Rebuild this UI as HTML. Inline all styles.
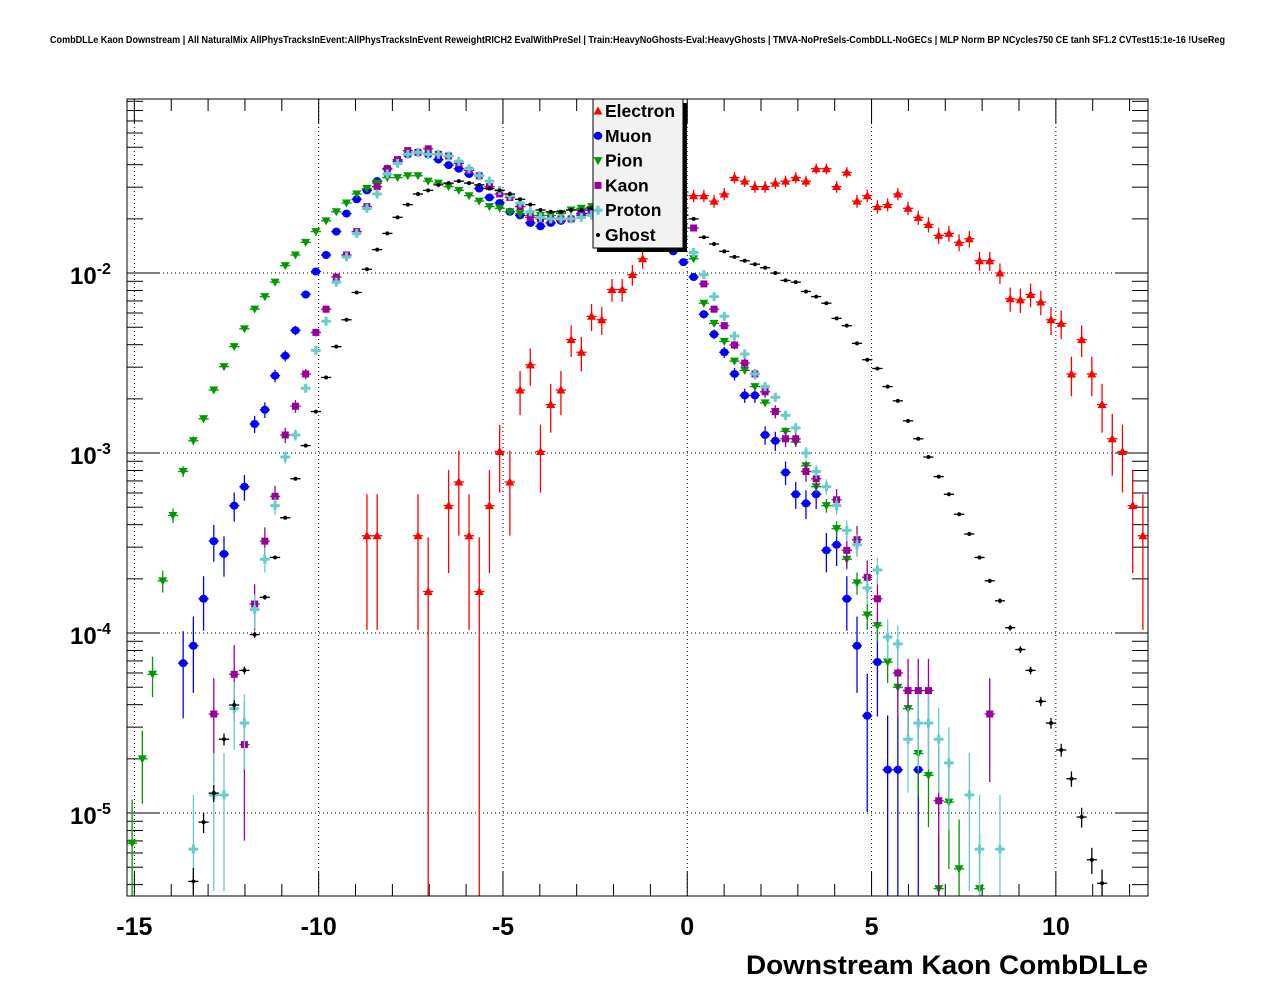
<!DOCTYPE html>
<html><head><meta charset="utf-8"><style>
html,body{margin:0;padding:0;background:#fff;}
svg{display:block;font-family:"Liberation Sans",Arial,sans-serif;}
</style></head><body>
<svg id="chart" width="1276" height="996" viewBox="0 0 1276 996" xmlns="http://www.w3.org/2000/svg">
<rect x="0" y="0" width="1276" height="996" fill="#fff"/>
<text x="50" y="43" font-size="10" font-weight="bold" textLength="1175" lengthAdjust="spacingAndGlyphs">CombDLLe Kaon Downstream | All NaturalMix AllPhysTracksInEvent:AllPhysTracksInEvent ReweightRICH2 EvalWithPreSel | Train:HeavyNoGhosts-Eval:HeavyGhosts | TMVA-NoPreSels-CombDLL-NoGECs | MLP Norm BP NCycles750 CE tanh SF1.2 CVTest15:1e-16 !UseReg</text>
<g id="grid"></g>
<g id="axes"></g>
<g id="data"></g>
<rect x="127" y="99" width="1021" height="797" fill="none" stroke="#000" stroke-width="1"/>
<text x="746" y="974" font-size="27" font-weight="bold" textLength="402" lengthAdjust="spacingAndGlyphs">Downstream Kaon CombDLLe</text>
<g id="legend"></g>
</svg>
<script>
const xMin = -15.2, xMax = 12.5, nBins = 100;
const yMinLog = -5.461, yMaxLog = -1.033;
const seriesNames = ["Electron","Muon","Pion","Kaon","Proton","Ghost"];
const _ = null;
const electron = [_,_,_,_,_,_,_,_,_,_,_,_,_,_,_,_,_,_,_,_,_,_,_,3.47e-4,3.47e-4,_,_,_,3.47e-4,1.7e-4,_,5.1e-4,6.9e-4,3.47e-4,1.7e-4,5.1e-4,1.02e-3,6.9e-4,2.24e-3,3.09e-3,1.02e-3,1.86e-3,2.24e-3,4.27e-3,3.63e-3,5.75e-3,5.5e-3,8.1e-3,8.1e-3,9.8e-3,1.2e-2,1.51e-2,1.9e-2,2.4e-2,2.82e-2,2.69e-2,2.69e-2,2.51e-2,2.75e-2,3.39e-2,3.24e-2,3.02e-2,3.02e-2,3.16e-2,3.24e-2,3.39e-2,3.24e-2,3.8e-2,3.8e-2,3.02e-2,3.63e-2,2.51e-2,2.69e-2,2.34e-2,2.4e-2,2.75e-2,2.29e-2,2.04e-2,1.86e-2,1.62e-2,1.66e-2,1.48e-2,1.55e-2,1.17e-2,1.17e-2,1.0e-2,7.2e-3,7.1e-3,7.6e-3,6.9e-3,5.5e-3,5.25e-3,2.75e-3,4.27e-3,2.75e-3,1.86e-3,1.2e-3,1.02e-3,5.1e-4,3.47e-4];
const muon = [_,_,_,_,_,6.8e-5,8.5e-5,1.55e-4,3.24e-4,2.75e-4,5.1e-4,6.5e-4,1.45e-3,1.74e-3,2.69e-3,3.47e-3,4.8e-3,7.6e-3,1.02e-2,1.26e-2,1.7e-2,2.14e-2,2.57e-2,2.88e-2,3.24e-2,3.8e-2,4.17e-2,4.57e-2,4.68e-2,4.57e-2,4.27e-2,3.98e-2,3.8e-2,3.55e-2,2.95e-2,2.63e-2,2.45e-2,2.19e-2,2.09e-2,1.9e-2,1.82e-2,1.9e-2,1.95e-2,2.0e-2,2.14e-2,2.24e-2,2.3e-2,2.3e-2,2.25e-2,2.15e-2,2.0e-2,1.8e-2,1.55e-2,1.32e-2,1.15e-2,9.5e-3,5.9e-3,4.57e-3,3.63e-3,2.75e-3,2.09e-3,2.09e-3,1.26e-3,1.17e-3,7.8e-4,5.9e-4,5.25e-4,5.9e-4,2.88e-4,3.09e-4,1.55e-4,8.5e-5,3.47e-5,6.9e-5,1.74e-5,1.74e-5,_,1.74e-5,_,_,_,_,_,_,_,_,_,_,_,_,_,_,_,_,_,_,_,_,_,_];
const pion = [6.8e-6,2.0e-5,5.9e-5,1.95e-4,4.5e-4,7.9e-4,1.17e-3,1.55e-3,2.24e-3,3.02e-3,3.9e-3,4.9e-3,6.3e-3,7.4e-3,8.9e-3,1.1e-2,1.26e-2,1.48e-2,1.7e-2,1.95e-2,2.19e-2,2.45e-2,2.75e-2,2.95e-2,3.16e-2,3.39e-2,3.39e-2,3.47e-2,3.47e-2,3.24e-2,3.16e-2,3.02e-2,2.88e-2,2.69e-2,2.51e-2,2.34e-2,2.29e-2,2.19e-2,2.14e-2,2.09e-2,2.09e-2,2.09e-2,2.14e-2,2.24e-2,2.29e-2,2.34e-2,2.3e-2,2.3e-2,2.25e-2,2.2e-2,2.1e-2,2.0e-2,1.9e-2,1.8e-2,1.78e-2,1.2e-2,6.8e-3,5.25e-3,4.17e-3,3.24e-3,2.88e-3,2.34e-3,1.9e-3,1.7e-3,1.32e-3,1.15e-3,8.5e-4,6.5e-4,5.1e-4,3.8e-4,2.57e-4,1.9e-4,1.26e-4,1.1e-4,6.9e-5,5.0e-5,3.8e-5,2.14e-5,1.62e-5,3.8e-6,1.15e-5,4.9e-6,_,3.8e-6,_,_,_,_,_,_,_,_,_,_,_,_,_,_,_,_];
const kaon = [_,_,_,_,_,_,_,_,3.55e-5,_,5.9e-5,2.4e-5,1.45e-4,3.24e-4,5.75e-4,1.26e-3,1.82e-3,2.75e-3,4.68e-3,6.3e-3,9.5e-3,1.26e-2,1.7e-2,2.34e-2,3.02e-2,3.8e-2,4.27e-2,4.79e-2,4.68e-2,4.9e-2,4.57e-2,4.47e-2,4.07e-2,3.72e-2,3.47e-2,3.02e-2,2.75e-2,2.63e-2,2.34e-2,2.04e-2,2.0e-2,2.0e-2,2.0e-2,2.0e-2,2.09e-2,2.15e-2,2.2e-2,2.25e-2,2.3e-2,2.35e-2,2.4e-2,2.5e-2,2.6e-2,2.8e-2,2.3e-2,1.78e-2,8.7e-3,6.3e-3,5.1e-3,3.98e-3,3.16e-3,2.75e-3,2.19e-3,1.7e-3,1.2e-3,1.2e-3,7.9e-4,7.2e-4,_,5.5e-4,2.88e-4,3.3e-4,2.04e-4,1.55e-4,_,6.0e-5,4.79e-5,4.79e-5,4.79e-5,1.17e-5,_,_,_,_,3.55e-5,_,_,_,_,_,_,_,_,_,_,_,_,_,_,_];
const proton = [_,_,_,_,_,_,6.3e-6,_,1.26e-5,1.26e-5,3.8e-5,3.16e-5,1.35e-4,2.57e-4,5.1e-4,9.5e-4,1.26e-3,2.29e-3,3.72e-3,5.4e-3,8.9e-3,1.23e-2,1.66e-2,2.29e-2,2.75e-2,3.55e-2,4.07e-2,4.57e-2,4.68e-2,4.57e-2,4.57e-2,4.47e-2,4.17e-2,3.8e-2,3.47e-2,3.24e-2,2.88e-2,2.69e-2,2.45e-2,2.19e-2,2.04e-2,2.0e-2,2.0e-2,2.0e-2,2.04e-2,2.1e-2,2.15e-2,2.2e-2,2.2e-2,2.2e-2,2.15e-2,2.0e-2,1.85e-2,1.7e-2,1.6e-2,1.3e-2,9.8e-3,7.4e-3,5.75e-3,4.47e-3,3.55e-3,2.75e-3,2.34e-3,2.04e-3,1.62e-3,1.38e-3,1.0e-3,7.9e-4,6.5e-4,5.1e-4,3.72e-4,3.09e-4,1.78e-4,2.24e-4,9.5e-5,8.7e-5,2.57e-5,3.16e-5,3.16e-5,2.57e-5,1.9e-5,_,1.26e-5,6.3e-6,_,6.3e-6,_,_,_,_,_,_,_,_,_,_,_,_,_,_];
const ghost = [_,_,_,_,_,_,4.17e-6,8.9e-6,1.29e-5,2.57e-5,3.98e-5,6.2e-5,9.8e-5,1.58e-4,2.63e-4,4.37e-4,7.2e-4,1.1e-3,1.7e-3,2.63e-3,3.9e-3,5.5e-3,7.8e-3,1.05e-2,1.35e-2,1.66e-2,2.04e-2,2.4e-2,2.75e-2,2.88e-2,3.09e-2,3.16e-2,3.24e-2,3.16e-2,3.09e-2,2.95e-2,2.88e-2,2.75e-2,2.57e-2,2.4e-2,2.24e-2,2.19e-2,2.19e-2,2.24e-2,2.24e-2,2.3e-2,2.35e-2,2.4e-2,2.4e-2,2.4e-2,2.35e-2,2.3e-2,2.25e-2,2.2e-2,2.1e-2,2.0e-2,1.58e-2,1.45e-2,1.32e-2,1.23e-2,1.17e-2,1.12e-2,1.07e-2,1.0e-2,9.1e-3,8.9e-3,7.9e-3,7.4e-3,6.8e-3,5.6e-3,5.1e-3,4.07e-3,3.3e-3,2.95e-3,2.34e-3,1.95e-3,1.51e-3,1.2e-3,9.5e-4,7.4e-4,5.9e-4,4.57e-4,3.55e-4,2.63e-4,1.95e-4,1.51e-4,1.07e-4,8.1e-5,6.2e-5,4.17e-5,3.16e-5,2.24e-5,1.55e-5,9.5e-6,5.5e-6,4.07e-6,_,_,_,_];
const xTickLabels = ["-15","-10","-5","0","5","10"];
const xTickValues = [-15,-10,-5,0,5,10];
const yDecades = [-2,-3,-4,-5];

const NS = "http://www.w3.org/2000/svg";
const PL = 127, PR = 1148, PT = 99, PB = 896;
function xPix(v){ return PL + (v - xMin) / (xMax - xMin) * (PR - PL); }
function yPix(v){ return PT + (yMaxLog - Math.log10(v)) / (yMaxLog - yMinLog) * (PB - PT); }
function mk(tag, attrs, parent){ const e = document.createElementNS(NS, tag); for (const k in attrs) e.setAttribute(k, attrs[k]); parent.appendChild(e); return e; }

const grid = document.getElementById('grid');
const axes = document.getElementById('axes');
const dataG = document.getElementById('data');
const legend = document.getElementById('legend');

xTickValues.forEach(v => {
  const l = mk('line', {x1: xPix(v), x2: xPix(v), y1: PT, y2: PB, stroke: '#000', 'stroke-width': 1, 'stroke-dasharray': '1,3'}, grid);
  
  
});
yDecades.forEach(d => {
  const y = yPix(Math.pow(10, d));
  const l = mk('line', {x1: PL, x2: PR, y1: y, y2: y, stroke: '#000', 'stroke-width': 1, 'stroke-dasharray': '1,3'}, grid);
  
  
});

for (let v = -15; v <= 12; v++) {
  const x = xPix(v);
  const len = (v % 5 === 0) ? 24 : 12;
  mk('line', {x1: x, x2: x, y1: PB, y2: PB - len, stroke: '#000', 'stroke-width': 1}, axes);
  mk('line', {x1: x, x2: x, y1: PT, y2: PT + len, stroke: '#000', 'stroke-width': 1}, axes);
}
xTickValues.forEach((v, i) => {
  const t = mk('text', {x: xPix(v), y: 935, 'font-size': 25, 'font-weight': 'bold', 'text-anchor': 'middle'}, axes);
  t.textContent = xTickLabels[i];
  
  
});
for (let d = -6; d <= -1; d++) {
  for (let m = 1; m <= 9; m++) {
    const v = m * Math.pow(10, d);
    const lg = Math.log10(v);
    if (lg < yMinLog || lg > yMaxLog) continue;
    const y = yPix(v);
    const len = m === 1 ? 32 : 16;
    mk('line', {x1: PL, x2: PL + len, y1: y, y2: y, stroke: '#000', 'stroke-width': 1}, axes);
    mk('line', {x1: PR, x2: PR - len, y1: y, y2: y, stroke: '#000', 'stroke-width': 1}, axes);
  }
}
yDecades.forEach(d => {
  const y = yPix(Math.pow(10, d));
  const t = mk('text', {x: 70, y: y + 11, 'font-size': 24, 'font-weight': 'bold'}, axes);
  
  
  const a = mk('tspan', {}, t); a.textContent = '10';
  const b = mk('tspan', {dy: -10, 'font-size': 16}, t); b.textContent = String(d);
});

const colors = ['#ff0000','#0000ff','#009900','#990099','#66cccc','#000000'];
const weights = [1.7e-4, 1.74e-5, 3.8e-6, 1.2e-5, 6.3e-6, 1.5e-7];
const allSeries = [electron, muon, pion, kaon, proton, ghost];
const ymin = Math.pow(10, yMinLog);
function marker(kind, x, y, c, parent){
  if (kind === 0) return mk('polygon', {points: `${x-4.5},${y+3.5} ${x+4.5},${y+3.5} ${x},${y-4.5}`, fill: c}, parent);
  if (kind === 1) return mk('ellipse', {cx: x, cy: y, rx: 4.3, ry: 4, fill: c}, parent);
  if (kind === 2) return mk('polygon', {points: `${x-4.5},${y-3.5} ${x+4.5},${y-3.5} ${x},${y+4.5}`, fill: c}, parent);
  if (kind === 3) return mk('rect', {x: x-3.5, y: y-3.5, width: 7, height: 7, fill: c}, parent);
  if (kind === 4) return mk('path', {d: `M${x-4.5},${y}H${x+4.5}M${x},${y-4.5}V${y+4.5}`, stroke: c, 'stroke-width': 3}, parent);
  return mk('circle', {cx: x, cy: y, r: 2}, parent);
}
const bw = (xMax - xMin) / nBins;
allSeries.forEach((arr, s) => {
  const g = mk('g', {}, dataG);
  
  
  arr.forEach((v, i) => {
    if (v === null || v <= 0) return;
    const cx = xPix(xMin + (i + 0.5) * bw);
    const cy = yPix(v);
    if (cy < PT || cy > PB) return;
    const err = Math.sqrt(v * weights[s]);
    const yTop = Math.max(PT, yPix(v + err));
    const yBot = (v - err) <= ymin ? PB : Math.min(PB, yPix(v - err));
    const c = colors[s];
    mk('line', {x1: cx, x2: cx, y1: yTop, y2: yBot, stroke: c, 'stroke-width': 1.3}, g);
    mk('line', {x1: xPix(xMin + i * bw), x2: xPix(xMin + (i + 1) * bw), y1: cy, y2: cy, stroke: c, 'stroke-width': 1.3}, g);
    const m = marker(s, cx, cy, c, g);
    m.setAttribute('fill', c);
    
    
  });
});

mk('rect', {x: 597, y: 103, width: 90, height: 149, fill: '#000'}, legend);
mk('rect', {x: 593, y: 99, width: 90, height: 149, fill: '#f2f2f2', stroke: '#000', 'stroke-width': 1}, legend);
seriesNames.forEach((n, s) => {
  const y = 111 + s * 24.8;
  const e = mk('g', {}, legend);
  
  
  const m = marker(s, 598, y, colors[s], e);
  m.setAttribute('fill', colors[s]);
  const t = mk('text', {x: 605, y: y + 6, 'font-size': 17.5, 'font-weight': 'bold'}, e);
  t.textContent = n;
});
</script>
</body></html>
